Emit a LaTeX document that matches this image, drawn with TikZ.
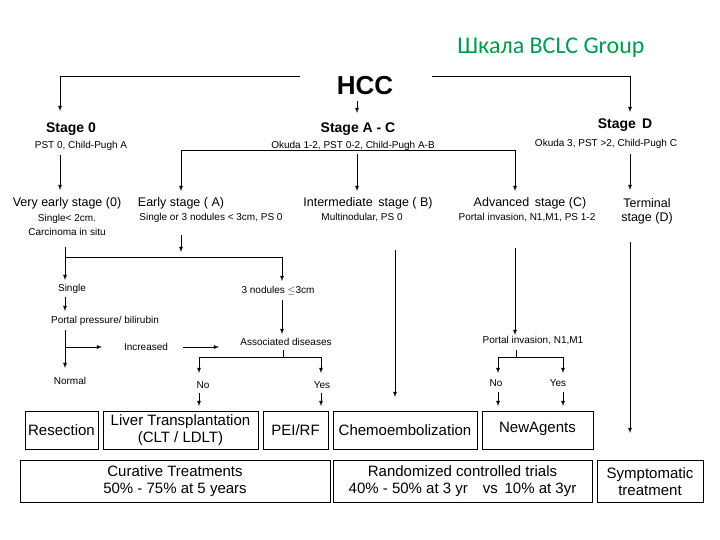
\documentclass[tikz,border=0pt]{standalone}
\usepackage{fontspec}
\setmainfont{Liberation Sans}
\newfontfamily\titlefont{Carlito}
\begin{document}
\begin{tikzpicture}[x=1pt,y=-1pt,
  t/.style={inner sep=0pt,font=\fontsize{12.5}{14}\selectfont,align=center},
  s/.style={inner sep=0pt,font=\fontsize{10}{14}\selectfont,align=center},
  h/.style={inner sep=0pt,font=\bfseries\fontsize{14}{16}\selectfont},
  bx/.style={draw,line width=0.9pt,inner sep=0pt,font=\fontsize{15}{17}\selectfont,align=center},
  ln/.style={line width=0.8pt},
  ar/.style={line width=0.8pt,-latex}]
\useasboundingbox (0,0) rectangle (720,540);
\definecolor{tgreen}{RGB}{0,153,80}
\node[inner sep=0pt,text=tgreen,font=\titlefont\fontsize{24}{26}\selectfont] (title) at (551,48) {Шкала BCLC Group};
\node[inner sep=0pt,font=\bfseries\fontsize{26}{28}\selectfont] (hcc) at (365,86) {HCC};
\node[h] (s0) at (71,129) {Stage 0};
\node[s] (s0t) at (81,146) {PST 0, Child-Pugh A};
\node[h] (sac) at (358,129) {Stage A - C};
\node[s] (sact) at (353,146) {Okuda 1-2, PST 0-2, Child-Pugh A-B};
\node[h] (sd) at (625,125) {Stage\, D};
\node[s] (sdt) at (606,144) {Okuda 3, PST >2, Child-Pugh C};
\coordinate (hl) at (60,76); \coordinate (hr) at (630,76);
\draw[ar] (300,76) -- (hl) -- (60,111);
\draw[ar] (432,76) -- (hr) -- (630,112);
\draw[ar] (357,101) -- (357,113);
% stage row
\node[t] (ve) at (67,203) {Very early stage (0)};
\node[s] (vet) at (67,225) {Single< 2cm.\\Carcinoma in situ};
\node[t] (ea) at (181,203) {Early stage ( A)};
\node[s] (eat) at (211,218) {Single or 3 nodules < 3cm, PS 0};
\node[t] (ib) at (368,203) {Intermediate\, stage ( B)};
\node[s] (ibt) at (362,218) {Multinodular, PS 0};
\node[t] (ac) at (530,203) {Advanced\, stage (C)};
\node[s] (act) at (527,218) {Portal invasion, N1,M1, PS 1-2};
\node[t] (td) at (647,211) {Terminal\\stage (D)};
\draw[ar] (60,155) -- (60,190);
\draw[ar] (357,154) -- (357,191);
\draw[ar] (181,150) -- (181,191);
\draw[ln] (181,150) -- (515,150);
\draw[ar] (515,150) -- (515,191);
\draw[ar] (630,154) -- (630,190);
% early branch
\draw[ar] (181,235) -- (181,252);
\draw[ln] (65,247) -- (65,257) -- (282,257);
\draw[ar] (65,257) -- (65,280);
\draw[ar] (282,257) -- (282,281);
\node[s] (sg) at (72,289) {Single};
\node[s] (tn) at (278,291) {3 nodules $\leq$3cm};
\draw[ar] (65,297) -- (65,311);
\node[s] (pp) at (105,321) {Portal pressure/ bilirubin};
\draw[ar] (282,300) -- (282,334);
\node[s] (ad) at (286,342) {Associated diseases};
\draw[ar] (65,330) -- (65,368);
\draw[ar] (65,347) -- (102,347);
\node[s] (inc) at (146,347) {Increased};
\draw[ar] (183,347) -- (219,347);
\node[s] (nm) at (70,381) {Normal};
\draw[ln] (283,350) -- (283,357);
\draw[ln] (199,357) -- (321,357);
\draw[ar] (199,357) -- (199,373);
\draw[ar] (321,357) -- (321,373);
\node[s] (no1) at (203,385) {No};
\node[s] (ye1) at (322,385) {Yes};
\draw[ar] (199,393) -- (199,406);
\draw[ar] (321,393) -- (321,406);
% intermediate
\draw[ar] (395,250) -- (395,397);
% advanced
\draw[ar] (515,248) -- (515,335);
\node[s] (pi) at (533,341) {Portal invasion, N1,M1};
\draw[ln] (516,350) -- (516,357);
\draw[ln] (498,357) -- (563,357);
\draw[ar] (498,357) -- (498,373);
\draw[ar] (563,357) -- (563,373);
\node[s] (no2) at (496,383) {No};
\node[s] (ye2) at (558,383) {Yes};
\draw[ar] (498,392) -- (498,406);
\draw[ar] (563,392) -- (563,406);
% terminal
\draw[ar] (630,242) -- (630,433);
% boxes
\node[bx,minimum width=73pt,minimum height=38pt] (res) at (61.5,430) {Resection};
\node[bx,minimum width=155pt,minimum height=38pt] (lt) at (180.5,430) {Liver Transplantation\\(CLT / LDLT)};
\node[bx,minimum width=65pt,minimum height=38pt] (pei) at (295.5,430) {PEI/RF};
\node[bx,minimum width=144pt,minimum height=38pt] (ch) at (405,430) {Chemoembolization};
\node[bx,minimum width=111pt,minimum height=38pt] (na) at (537.5,430) {\raisebox{6pt}{NewAgents}};
\node[bx,minimum width=310pt,minimum height=42pt] (cur) at (175,481.5) {Curative Treatments\\50\% - 75\% at 5 years};
\node[bx,minimum width=259pt,minimum height=42pt] (rct) at (462.5,481.5) {Randomized controlled trials\\40\% - 50\% at 3 yr\quad vs\, 10\% at 3yr};
\node[bx,minimum width=106pt,minimum height=42pt] (sym) at (650,481.5) {Symptomatic\\treatment};
\end{tikzpicture}
\end{document}
